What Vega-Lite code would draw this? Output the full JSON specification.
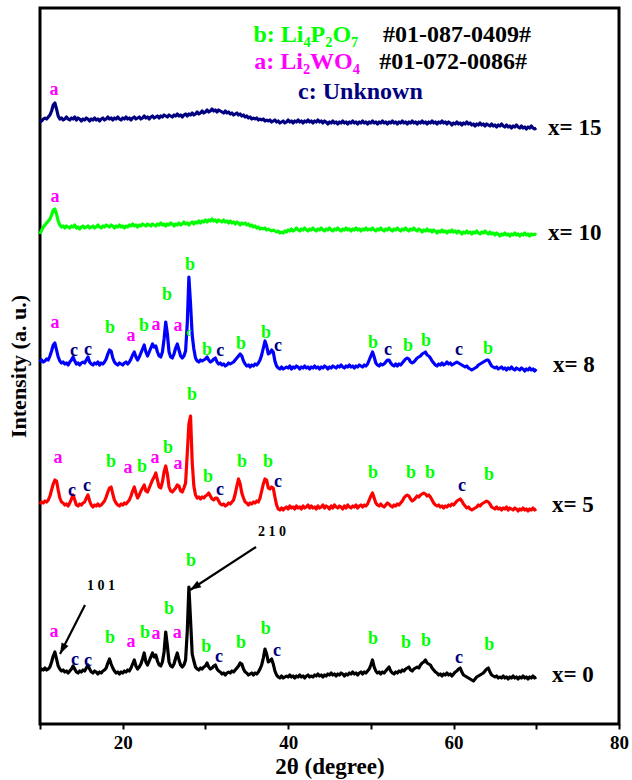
{
  "$schema": "https://vega.github.io/schema/vega-lite/v6.json",
  "width": 579,
  "height": 716,
  "autosize": {"type": "none"},
  "padding": {"left": 40, "top": 8, "right": 13, "bottom": 56},
  "background": "white",
  "config": {"view": {"stroke": "black", "strokeWidth": 3}, "font": "Liberation Serif"},
  "datasets": {
    "scans": [
      {"t":10.0,"s0":53,"s5":220,"s8":362,"s10":490,"s15":602},
      {"t":10.2,"s0":55,"s5":222,"s8":364,"s10":494,"s15":603},
      {"t":10.4,"s0":54,"s5":221,"s8":362,"s10":497,"s15":605},
      {"t":10.6,"s0":56,"s5":223,"s8":363,"s10":499,"s15":606},
      {"t":10.8,"s0":54,"s5":222,"s8":365,"s10":501,"s15":605},
      {"t":11.0,"s0":55,"s5":224,"s8":364,"s10":503,"s15":607},
      {"t":11.2,"s0":57,"s5":228,"s8":368,"s10":505,"s15":609},
      {"t":11.4,"s0":62,"s5":234,"s8":373,"s10":509,"s15":613},
      {"t":11.6,"s0":68,"s5":240,"s8":379,"s10":514,"s15":619},
      {"t":11.8,"s0":72,"s5":244,"s8":381,"s10":515,"s15":621},
      {"t":12.0,"s0":65,"s5":243,"s8":374,"s10":510,"s15":615},
      {"t":12.2,"s0":58,"s5":234,"s8":367,"s10":503,"s15":608},
      {"t":12.4,"s0":55,"s5":226,"s8":363,"s10":499,"s15":605},
      {"t":12.6,"s0":53,"s5":222,"s8":361,"s10":497,"s15":606},
      {"t":12.8,"s0":54,"s5":221,"s8":362,"s10":498,"s15":604},
      {"t":13.0,"s0":52,"s5":219,"s8":360,"s10":496,"s15":605},
      {"t":13.2,"s0":53,"s5":220,"s8":361,"s10":498,"s15":607},
      {"t":13.4,"s0":51,"s5":218,"s8":359,"s10":497,"s15":605},
      {"t":13.6,"s0":53,"s5":221,"s8":362,"s10":496,"s15":604},
      {"t":13.8,"s0":55,"s5":225,"s8":364,"s10":498,"s15":606},
      {"t":14.0,"s0":58,"s5":229,"s8":367,"s10":497,"s15":605},
      {"t":14.2,"s0":55,"s5":224,"s8":363,"s10":499,"s15":607},
      {"t":14.4,"s0":52,"s5":219,"s8":360,"s10":496,"s15":604},
      {"t":14.6,"s0":51,"s5":218,"s8":361,"s10":497,"s15":606},
      {"t":14.8,"s0":53,"s5":220,"s8":359,"s10":495,"s15":605},
      {"t":15.0,"s0":52,"s5":219,"s8":361,"s10":497,"s15":603},
      {"t":15.2,"s0":54,"s5":221,"s8":362,"s10":498,"s15":605},
      {"t":15.4,"s0":53,"s5":222,"s8":361,"s10":496,"s15":604},
      {"t":15.6,"s0":56,"s5":226,"s8":364,"s10":497,"s15":606},
      {"t":15.8,"s0":59,"s5":229,"s8":367,"s10":498,"s15":605},
      {"t":16.0,"s0":55,"s5":223,"s8":362,"s10":496,"s15":603},
      {"t":16.2,"s0":52,"s5":219,"s8":360,"s10":497,"s15":605},
      {"t":16.4,"s0":51,"s5":217,"s8":359,"s10":498,"s15":604},
      {"t":16.6,"s0":53,"s5":219,"s8":361,"s10":496,"s15":606},
      {"t":16.8,"s0":52,"s5":218,"s8":360,"s10":497,"s15":604},
      {"t":17.0,"s0":50,"s5":220,"s8":362,"s10":499,"s15":605},
      {"t":17.2,"s0":52,"s5":218,"s8":359,"s10":497,"s15":603},
      {"t":17.4,"s0":51,"s5":219,"s8":361,"s10":496,"s15":605},
      {"t":17.6,"s0":53,"s5":221,"s8":360,"s10":498,"s15":606},
      {"t":17.8,"s0":54,"s5":223,"s8":362,"s10":497,"s15":604},
      {"t":18.0,"s0":56,"s5":227,"s8":365,"s10":499,"s15":605},
      {"t":18.2,"s0":61,"s5":232,"s8":370,"s10":498,"s15":607},
      {"t":18.4,"s0":65,"s5":236,"s8":374,"s10":497,"s15":605},
      {"t":18.6,"s0":60,"s5":237,"s8":373,"s10":499,"s15":606},
      {"t":18.8,"s0":56,"s5":230,"s8":366,"s10":498,"s15":604},
      {"t":19.0,"s0":53,"s5":224,"s8":362,"s10":496,"s15":606},
      {"t":19.2,"s0":51,"s5":221,"s8":360,"s10":498,"s15":605},
      {"t":19.4,"s0":52,"s5":219,"s8":359,"s10":497,"s15":607},
      {"t":19.6,"s0":50,"s5":218,"s8":361,"s10":499,"s15":605},
      {"t":19.8,"s0":52,"s5":220,"s8":360,"s10":497,"s15":604},
      {"t":20.0,"s0":51,"s5":219,"s8":359,"s10":498,"s15":606},
      {"t":20.2,"s0":53,"s5":221,"s8":361,"s10":496,"s15":605},
      {"t":20.4,"s0":52,"s5":220,"s8":362,"s10":498,"s15":607},
      {"t":20.6,"s0":54,"s5":222,"s8":360,"s10":497,"s15":605},
      {"t":20.8,"s0":53,"s5":224,"s8":362,"s10":499,"s15":606},
      {"t":21.0,"s0":56,"s5":228,"s8":365,"s10":498,"s15":604},
      {"t":21.2,"s0":60,"s5":233,"s8":369,"s10":500,"s15":606},
      {"t":21.4,"s0":64,"s5":237,"s8":372,"s10":498,"s15":607},
      {"t":21.6,"s0":58,"s5":231,"s8":367,"s10":499,"s15":605},
      {"t":21.8,"s0":55,"s5":226,"s8":364,"s10":497,"s15":606},
      {"t":22.0,"s0":57,"s5":229,"s8":367,"s10":499,"s15":607},
      {"t":22.2,"s0":60,"s5":233,"s8":371,"s10":498,"s15":605},
      {"t":22.4,"s0":65,"s5":236,"s8":375,"s10":500,"s15":606},
      {"t":22.6,"s0":71,"s5":239,"s8":379,"s10":499,"s15":608},
      {"t":22.8,"s0":62,"s5":233,"s8":372,"s10":498,"s15":606},
      {"t":23.0,"s0":59,"s5":232,"s8":368,"s10":500,"s15":607},
      {"t":23.2,"s0":63,"s5":236,"s8":372,"s10":499,"s15":605},
      {"t":23.4,"s0":67,"s5":240,"s8":376,"s10":498,"s15":607},
      {"t":23.6,"s0":71,"s5":244,"s8":380,"s10":500,"s15":608},
      {"t":23.8,"s0":67,"s5":247,"s8":377,"s10":499,"s15":606},
      {"t":24.0,"s0":69,"s5":251,"s8":378,"s10":498,"s15":607},
      {"t":24.2,"s0":63,"s5":244,"s8":372,"s10":500,"s15":608},
      {"t":24.4,"s0":59,"s5":237,"s8":368,"s10":499,"s15":606},
      {"t":24.6,"s0":58,"s5":236,"s8":367,"s10":501,"s15":608},
      {"t":24.8,"s0":62,"s5":242,"s8":372,"s10":499,"s15":607},
      {"t":25.0,"s0":72,"s5":252,"s8":385,"s10":500,"s15":609},
      {"t":25.2,"s0":92,"s5":258,"s8":402,"s10":498,"s15":608},
      {"t":25.4,"s0":78,"s5":250,"s8":390,"s10":500,"s15":607},
      {"t":25.6,"s0":62,"s5":237,"s8":372,"s10":499,"s15":609},
      {"t":25.8,"s0":58,"s5":233,"s8":367,"s10":501,"s15":608},
      {"t":26.0,"s0":57,"s5":232,"s8":366,"s10":500,"s15":607},
      {"t":26.2,"s0":60,"s5":234,"s8":370,"s10":498,"s15":609},
      {"t":26.4,"s0":66,"s5":236,"s8":376,"s10":500,"s15":608},
      {"t":26.6,"s0":71,"s5":239,"s8":380,"s10":499,"s15":610},
      {"t":26.8,"s0":64,"s5":238,"s8":374,"s10":501,"s15":608},
      {"t":27.0,"s0":59,"s5":233,"s8":368,"s10":499,"s15":609},
      {"t":27.2,"s0":57,"s5":232,"s8":366,"s10":500,"s15":607},
      {"t":27.4,"s0":59,"s5":236,"s8":368,"s10":502,"s15":609},
      {"t":27.6,"s0":64,"s5":241,"s8":373,"s10":500,"s15":610},
      {"t":27.8,"s0":92,"s5":270,"s8":400,"s10":501,"s15":608},
      {"t":28.0,"s0":137,"s5":300,"s8":447,"s10":499,"s15":610},
      {"t":28.2,"s0":104,"s5":308,"s8":420,"s10":501,"s15":609},
      {"t":28.4,"s0":70,"s5":262,"s8":389,"s10":502,"s15":611},
      {"t":28.6,"s0":63,"s5":238,"s8":375,"s10":500,"s15":609},
      {"t":28.8,"s0":57,"s5":229,"s8":366,"s10":502,"s15":610},
      {"t":29.0,"s0":55,"s5":226,"s8":363,"s10":501,"s15":612},
      {"t":29.2,"s0":54,"s5":227,"s8":362,"s10":503,"s15":610},
      {"t":29.4,"s0":56,"s5":225,"s8":364,"s10":501,"s15":611},
      {"t":29.6,"s0":55,"s5":227,"s8":363,"s10":503,"s15":613},
      {"t":29.8,"s0":57,"s5":226,"s8":364,"s10":502,"s15":611},
      {"t":30.0,"s0":58,"s5":228,"s8":365,"s10":504,"s15":612},
      {"t":30.2,"s0":61,"s5":229,"s8":367,"s10":502,"s15":614},
      {"t":30.4,"s0":57,"s5":231,"s8":364,"s10":504,"s15":612},
      {"t":30.6,"s0":55,"s5":228,"s8":362,"s10":503,"s15":613},
      {"t":30.8,"s0":56,"s5":225,"s8":363,"s10":505,"s15":615},
      {"t":31.0,"s0":58,"s5":224,"s8":365,"s10":503,"s15":613},
      {"t":31.2,"s0":59,"s5":226,"s8":366,"s10":504,"s15":614},
      {"t":31.4,"s0":55,"s5":226,"s8":362,"s10":502,"s15":612},
      {"t":31.6,"s0":53,"s5":223,"s8":360,"s10":504,"s15":614},
      {"t":31.8,"s0":52,"s5":220,"s8":361,"s10":503,"s15":613},
      {"t":32.0,"s0":50,"s5":219,"s8":359,"s10":502,"s15":612},
      {"t":32.2,"s0":51,"s5":220,"s8":360,"s10":504,"s15":611},
      {"t":32.4,"s0":49,"s5":218,"s8":358,"s10":502,"s15":613},
      {"t":32.6,"s0":51,"s5":219,"s8":359,"s10":503,"s15":611},
      {"t":32.8,"s0":52,"s5":221,"s8":361,"s10":501,"s15":612},
      {"t":33.0,"s0":51,"s5":220,"s8":360,"s10":503,"s15":610},
      {"t":33.2,"s0":53,"s5":222,"s8":361,"s10":501,"s15":611},
      {"t":33.4,"s0":52,"s5":224,"s8":362,"s10":502,"s15":609},
      {"t":33.6,"s0":54,"s5":230,"s8":364,"s10":500,"s15":610},
      {"t":33.8,"s0":56,"s5":238,"s8":366,"s10":502,"s15":611},
      {"t":34.0,"s0":58,"s5":245,"s8":368,"s10":501,"s15":609},
      {"t":34.2,"s0":61,"s5":240,"s8":370,"s10":499,"s15":610},
      {"t":34.4,"s0":60,"s5":231,"s8":368,"s10":501,"s15":608},
      {"t":34.6,"s0":55,"s5":226,"s8":363,"s10":500,"s15":609},
      {"t":34.8,"s0":52,"s5":222,"s8":360,"s10":501,"s15":607},
      {"t":35.0,"s0":51,"s5":221,"s8":358,"s10":499,"s15":608},
      {"t":35.2,"s0":49,"s5":219,"s8":359,"s10":500,"s15":606},
      {"t":35.4,"s0":50,"s5":221,"s8":357,"s10":498,"s15":607},
      {"t":35.6,"s0":51,"s5":220,"s8":359,"s10":499,"s15":605},
      {"t":35.8,"s0":49,"s5":222,"s8":358,"s10":497,"s15":606},
      {"t":36.0,"s0":51,"s5":221,"s8":360,"s10":498,"s15":605},
      {"t":36.2,"s0":50,"s5":223,"s8":359,"s10":496,"s15":606},
      {"t":36.4,"s0":52,"s5":222,"s8":361,"s10":497,"s15":604},
      {"t":36.6,"s0":55,"s5":226,"s8":364,"s10":495,"s15":605},
      {"t":36.8,"s0":59,"s5":233,"s8":369,"s10":496,"s15":604},
      {"t":37.0,"s0":66,"s5":240,"s8":376,"s10":495,"s15":605},
      {"t":37.2,"s0":75,"s5":245,"s8":383,"s10":496,"s15":603},
      {"t":37.4,"s0":70,"s5":244,"s8":378,"s10":494,"s15":604},
      {"t":37.6,"s0":62,"s5":236,"s8":370,"s10":495,"s15":603},
      {"t":37.8,"s0":63,"s5":235,"s8":371,"s10":494,"s15":604},
      {"t":38.0,"s0":65,"s5":237,"s8":374,"s10":493,"s15":602},
      {"t":38.2,"s0":60,"s5":236,"s8":372,"s10":494,"s15":603},
      {"t":38.4,"s0":53,"s5":227,"s8":363,"s10":493,"s15":604},
      {"t":38.6,"s0":49,"s5":219,"s8":358,"s10":492,"s15":602},
      {"t":38.8,"s0":47,"s5":215,"s8":356,"s10":493,"s15":603},
      {"t":39.0,"s0":46,"s5":214,"s8":355,"s10":491,"s15":601},
      {"t":39.2,"s0":48,"s5":216,"s8":357,"s10":492,"s15":602},
      {"t":39.4,"s0":46,"s5":214,"s8":355,"s10":491,"s15":603},
      {"t":39.6,"s0":47,"s5":216,"s8":356,"s10":493,"s15":601},
      {"t":39.8,"s0":48,"s5":217,"s8":357,"s10":492,"s15":602},
      {"t":40.0,"s0":47,"s5":215,"s8":356,"s10":494,"s15":604},
      {"t":40.2,"s0":49,"s5":218,"s8":358,"s10":493,"s15":602},
      {"t":40.4,"s0":47,"s5":216,"s8":355,"s10":495,"s15":603},
      {"t":40.6,"s0":48,"s5":217,"s8":357,"s10":493,"s15":601},
      {"t":40.8,"s0":46,"s5":215,"s8":356,"s10":494,"s15":603},
      {"t":41.0,"s0":48,"s5":218,"s8":358,"s10":496,"s15":602},
      {"t":41.2,"s0":47,"s5":216,"s8":357,"s10":494,"s15":604},
      {"t":41.4,"s0":49,"s5":217,"s8":355,"s10":493,"s15":602},
      {"t":41.6,"s0":47,"s5":215,"s8":357,"s10":495,"s15":603},
      {"t":41.8,"s0":48,"s5":218,"s8":356,"s10":494,"s15":601},
      {"t":42.0,"s0":46,"s5":216,"s8":358,"s10":496,"s15":603},
      {"t":42.2,"s0":48,"s5":217,"s8":356,"s10":494,"s15":602},
      {"t":42.4,"s0":49,"s5":219,"s8":357,"s10":493,"s15":604},
      {"t":42.6,"s0":47,"s5":216,"s8":355,"s10":495,"s15":602},
      {"t":42.8,"s0":48,"s5":218,"s8":357,"s10":494,"s15":603},
      {"t":43.0,"s0":47,"s5":216,"s8":356,"s10":496,"s15":601},
      {"t":43.2,"s0":49,"s5":217,"s8":358,"s10":494,"s15":603},
      {"t":43.4,"s0":48,"s5":215,"s8":356,"s10":493,"s15":602},
      {"t":43.6,"s0":50,"s5":218,"s8":357,"s10":495,"s15":604},
      {"t":43.8,"s0":48,"s5":216,"s8":355,"s10":494,"s15":602},
      {"t":44.0,"s0":49,"s5":217,"s8":357,"s10":496,"s15":603},
      {"t":44.2,"s0":47,"s5":219,"s8":356,"s10":494,"s15":601},
      {"t":44.4,"s0":49,"s5":216,"s8":358,"s10":493,"s15":603},
      {"t":44.6,"s0":48,"s5":218,"s8":357,"s10":495,"s15":602},
      {"t":44.8,"s0":50,"s5":217,"s8":355,"s10":494,"s15":600},
      {"t":45.0,"s0":49,"s5":215,"s8":357,"s10":496,"s15":602},
      {"t":45.2,"s0":51,"s5":218,"s8":356,"s10":494,"s15":601},
      {"t":45.4,"s0":49,"s5":216,"s8":358,"s10":493,"s15":603},
      {"t":45.6,"s0":50,"s5":219,"s8":357,"s10":495,"s15":601},
      {"t":45.8,"s0":48,"s5":217,"s8":356,"s10":494,"s15":602},
      {"t":46.0,"s0":50,"s5":216,"s8":358,"s10":496,"s15":600},
      {"t":46.2,"s0":49,"s5":218,"s8":357,"s10":494,"s15":602},
      {"t":46.4,"s0":51,"s5":217,"s8":359,"s10":493,"s15":601},
      {"t":46.6,"s0":50,"s5":215,"s8":357,"s10":495,"s15":603},
      {"t":46.8,"s0":48,"s5":218,"s8":356,"s10":494,"s15":601},
      {"t":47.0,"s0":50,"s5":216,"s8":358,"s10":496,"s15":602},
      {"t":47.2,"s0":49,"s5":219,"s8":357,"s10":494,"s15":600},
      {"t":47.4,"s0":51,"s5":217,"s8":359,"s10":495,"s15":602},
      {"t":47.6,"s0":50,"s5":216,"s8":357,"s10":493,"s15":601},
      {"t":47.8,"s0":52,"s5":218,"s8":358,"s10":495,"s15":603},
      {"t":48.0,"s0":50,"s5":217,"s8":356,"s10":494,"s15":601},
      {"t":48.2,"s0":51,"s5":219,"s8":358,"s10":496,"s15":602},
      {"t":48.4,"s0":49,"s5":216,"s8":357,"s10":494,"s15":600},
      {"t":48.6,"s0":51,"s5":218,"s8":359,"s10":495,"s15":602},
      {"t":48.8,"s0":52,"s5":219,"s8":358,"s10":493,"s15":601},
      {"t":49.0,"s0":50,"s5":217,"s8":357,"s10":495,"s15":603},
      {"t":49.2,"s0":52,"s5":219,"s8":359,"s10":494,"s15":601},
      {"t":49.4,"s0":51,"s5":218,"s8":358,"s10":496,"s15":602},
      {"t":49.6,"s0":53,"s5":220,"s8":360,"s10":494,"s15":600},
      {"t":49.8,"s0":55,"s5":224,"s8":364,"s10":495,"s15":602},
      {"t":50.0,"s0":59,"s5":228,"s8":368,"s10":494,"s15":601},
      {"t":50.2,"s0":64,"s5":231,"s8":372,"s10":496,"s15":603},
      {"t":50.4,"s0":57,"s5":226,"s8":367,"s10":494,"s15":601},
      {"t":50.6,"s0":53,"s5":221,"s8":361,"s10":493,"s15":602},
      {"t":50.8,"s0":51,"s5":219,"s8":359,"s10":495,"s15":600},
      {"t":51.0,"s0":52,"s5":218,"s8":358,"s10":494,"s15":602},
      {"t":51.2,"s0":50,"s5":220,"s8":360,"s10":496,"s15":601},
      {"t":51.4,"s0":52,"s5":218,"s8":359,"s10":494,"s15":603},
      {"t":51.6,"s0":51,"s5":217,"s8":360,"s10":493,"s15":601},
      {"t":51.8,"s0":53,"s5":219,"s8":362,"s10":495,"s15":602},
      {"t":52.0,"s0":55,"s5":221,"s8":364,"s10":494,"s15":600},
      {"t":52.2,"s0":57,"s5":220,"s8":364,"s10":496,"s15":602},
      {"t":52.4,"s0":53,"s5":218,"s8":361,"s10":494,"s15":601},
      {"t":52.6,"s0":51,"s5":217,"s8":359,"s10":493,"s15":603},
      {"t":52.8,"s0":50,"s5":219,"s8":358,"s10":495,"s15":601},
      {"t":53.0,"s0":52,"s5":218,"s8":360,"s10":494,"s15":602},
      {"t":53.2,"s0":51,"s5":220,"s8":358,"s10":496,"s15":600},
      {"t":53.4,"s0":53,"s5":219,"s8":360,"s10":494,"s15":602},
      {"t":53.6,"s0":52,"s5":221,"s8":359,"s10":493,"s15":601},
      {"t":53.8,"s0":54,"s5":223,"s8":361,"s10":495,"s15":603},
      {"t":54.0,"s0":53,"s5":226,"s8":363,"s10":494,"s15":601},
      {"t":54.2,"s0":55,"s5":228,"s8":365,"s10":496,"s15":602},
      {"t":54.4,"s0":56,"s5":229,"s8":366,"s10":494,"s15":600},
      {"t":54.6,"s0":57,"s5":228,"s8":365,"s10":493,"s15":602},
      {"t":54.8,"s0":54,"s5":225,"s8":362,"s10":495,"s15":601},
      {"t":55.0,"s0":53,"s5":223,"s8":361,"s10":494,"s15":603},
      {"t":55.2,"s0":55,"s5":224,"s8":362,"s10":496,"s15":601},
      {"t":55.4,"s0":56,"s5":226,"s8":364,"s10":494,"s15":602},
      {"t":55.6,"s0":57,"s5":228,"s8":366,"s10":493,"s15":600},
      {"t":55.8,"s0":56,"s5":227,"s8":367,"s10":495,"s15":602},
      {"t":56.0,"s0":59,"s5":229,"s8":368,"s10":494,"s15":601},
      {"t":56.2,"s0":61,"s5":230,"s8":370,"s10":492,"s15":603},
      {"t":56.4,"s0":62,"s5":231,"s8":371,"s10":494,"s15":601},
      {"t":56.6,"s0":64,"s5":230,"s8":372,"s10":493,"s15":602},
      {"t":56.8,"s0":61,"s5":228,"s8":369,"s10":495,"s15":600},
      {"t":57.0,"s0":60,"s5":229,"s8":368,"s10":493,"s15":602},
      {"t":57.2,"s0":59,"s5":227,"s8":366,"s10":494,"s15":601},
      {"t":57.4,"s0":56,"s5":224,"s8":363,"s10":492,"s15":603},
      {"t":57.6,"s0":54,"s5":221,"s8":361,"s10":494,"s15":601},
      {"t":57.8,"s0":52,"s5":219,"s8":359,"s10":493,"s15":602},
      {"t":58.0,"s0":51,"s5":218,"s8":358,"s10":491,"s15":600},
      {"t":58.2,"s0":49,"s5":219,"s8":360,"s10":493,"s15":602},
      {"t":58.4,"s0":50,"s5":217,"s8":359,"s10":492,"s15":601},
      {"t":58.6,"s0":48,"s5":218,"s8":361,"s10":494,"s15":603},
      {"t":58.8,"s0":50,"s5":216,"s8":359,"s10":492,"s15":601},
      {"t":59.0,"s0":49,"s5":218,"s8":360,"s10":493,"s15":602},
      {"t":59.2,"s0":51,"s5":217,"s8":362,"s10":491,"s15":600},
      {"t":59.4,"s0":49,"s5":219,"s8":360,"s10":493,"s15":602},
      {"t":59.6,"s0":50,"s5":218,"s8":361,"s10":492,"s15":601},
      {"t":59.8,"s0":48,"s5":220,"s8":359,"s10":494,"s15":599},
      {"t":60.0,"s0":50,"s5":219,"s8":360,"s10":492,"s15":601},
      {"t":60.2,"s0":52,"s5":221,"s8":361,"s10":493,"s15":600},
      {"t":60.4,"s0":53,"s5":223,"s8":362,"s10":491,"s15":602},
      {"t":60.6,"s0":55,"s5":224,"s8":361,"s10":493,"s15":600},
      {"t":60.8,"s0":56,"s5":225,"s8":360,"s10":492,"s15":601},
      {"t":61.0,"s0":52,"s5":223,"s8":359,"s10":490,"s15":599},
      {"t":61.2,"s0":49,"s5":220,"s8":358,"s10":492,"s15":601},
      {"t":61.4,"s0":48,"s5":218,"s8":357,"s10":491,"s15":600},
      {"t":61.6,"s0":47,"s5":216,"s8":358,"s10":493,"s15":602},
      {"t":61.8,"s0":46,"s5":217,"s8":356,"s10":491,"s15":600},
      {"t":62.0,"s0":45,"s5":215,"s8":355,"s10":492,"s15":601},
      {"t":62.2,"s0":44,"s5":214,"s8":354,"s10":490,"s15":599},
      {"t":62.4,"s0":43,"s5":215,"s8":355,"s10":492,"s15":600},
      {"t":62.6,"s0":45,"s5":216,"s8":356,"s10":491,"s15":598},
      {"t":62.8,"s0":47,"s5":217,"s8":357,"s10":493,"s15":600},
      {"t":63.0,"s0":48,"s5":219,"s8":359,"s10":491,"s15":599},
      {"t":63.2,"s0":49,"s5":218,"s8":360,"s10":490,"s15":601},
      {"t":63.4,"s0":50,"s5":220,"s8":361,"s10":492,"s15":599},
      {"t":63.6,"s0":51,"s5":221,"s8":362,"s10":491,"s15":600},
      {"t":63.8,"s0":53,"s5":222,"s8":363,"s10":493,"s15":598},
      {"t":64.0,"s0":55,"s5":223,"s8":364,"s10":491,"s15":600},
      {"t":64.2,"s0":56,"s5":222,"s8":364,"s10":490,"s15":599},
      {"t":64.4,"s0":52,"s5":220,"s8":361,"s10":492,"s15":598},
      {"t":64.6,"s0":49,"s5":217,"s8":358,"s10":490,"s15":600},
      {"t":64.8,"s0":48,"s5":216,"s8":357,"s10":491,"s15":598},
      {"t":65.0,"s0":47,"s5":215,"s8":356,"s10":489,"s15":599},
      {"t":65.2,"s0":48,"s5":217,"s8":357,"s10":491,"s15":597},
      {"t":65.4,"s0":46,"s5":215,"s8":355,"s10":490,"s15":599},
      {"t":65.6,"s0":47,"s5":216,"s8":356,"s10":488,"s15":598},
      {"t":65.8,"s0":46,"s5":214,"s8":357,"s10":490,"s15":600},
      {"t":66.0,"s0":48,"s5":216,"s8":355,"s10":489,"s15":598},
      {"t":66.2,"s0":46,"s5":215,"s8":356,"s10":491,"s15":597},
      {"t":66.4,"s0":47,"s5":217,"s8":354,"s10":489,"s15":599},
      {"t":66.6,"s0":45,"s5":214,"s8":356,"s10":490,"s15":597},
      {"t":66.8,"s0":47,"s5":216,"s8":355,"s10":488,"s15":598},
      {"t":67.0,"s0":46,"s5":215,"s8":357,"s10":490,"s15":596},
      {"t":67.2,"s0":48,"s5":214,"s8":355,"s10":489,"s15":598},
      {"t":67.4,"s0":46,"s5":216,"s8":354,"s10":491,"s15":597},
      {"t":67.6,"s0":47,"s5":215,"s8":356,"s10":489,"s15":599},
      {"t":67.8,"s0":45,"s5":213,"s8":355,"s10":490,"s15":597},
      {"t":68.0,"s0":47,"s5":215,"s8":354,"s10":488,"s15":596},
      {"t":68.2,"s0":46,"s5":214,"s8":356,"s10":490,"s15":598},
      {"t":68.4,"s0":48,"s5":216,"s8":355,"s10":489,"s15":596},
      {"t":68.6,"s0":46,"s5":214,"s8":353,"s10":491,"s15":597},
      {"t":68.8,"s0":47,"s5":215,"s8":355,"s10":489,"s15":595},
      {"t":69.0,"s0":45,"s5":213,"s8":354,"s10":490,"s15":597},
      {"t":69.2,"s0":47,"s5":215,"s8":356,"s10":488,"s15":596},
      {"t":69.4,"s0":46,"s5":214,"s8":354,"s10":490,"s15":598},
      {"t":69.6,"s0":48,"s5":216,"s8":355,"s10":489,"s15":596},
      {"t":69.8,"s0":46,"s5":214,"s8":353,"s10":490,"s15":595},
      {"t":70.0,"s0":47,"s5":215,"s8":355,"s10":489,"s15":596}
    ],
    "peaks": [
      {"t":11.69,"y":92,"txt":"a","kind":"a"},
      {"t":14.23,"y":64,"txt":"c","kind":"c"},
      {"t":15.8,"y":63,"txt":"c","kind":"c"},
      {"t":18.46,"y":86,"txt":"b","kind":"b"},
      {"t":21.0,"y":82,"txt":"a","kind":"a"},
      {"t":22.69,"y":91,"txt":"b","kind":"b"},
      {"t":24.02,"y":90,"txt":"a","kind":"a"},
      {"t":25.6,"y":115,"txt":"b","kind":"b"},
      {"t":26.6,"y":91,"txt":"a","kind":"a"},
      {"t":28.26,"y":163,"txt":"b","kind":"b"},
      {"t":30.1,"y":77,"txt":"b","kind":"b"},
      {"t":31.64,"y":67,"txt":"c","kind":"c"},
      {"t":34.3,"y":81,"txt":"b","kind":"b"},
      {"t":37.3,"y":95,"txt":"b","kind":"b"},
      {"t":38.65,"y":73,"txt":"c","kind":"c"},
      {"t":50.26,"y":85,"txt":"b","kind":"b"},
      {"t":54.25,"y":81,"txt":"b","kind":"b"},
      {"t":56.67,"y":83,"txt":"b","kind":"b"},
      {"t":60.66,"y":66,"txt":"c","kind":"c"},
      {"t":64.3,"y":79,"txt":"b","kind":"b"},
      {"t":12.18,"y":266,"txt":"a","kind":"a"},
      {"t":13.87,"y":233,"txt":"c","kind":"c"},
      {"t":15.68,"y":238,"txt":"c","kind":"c"},
      {"t":18.58,"y":262,"txt":"b","kind":"b"},
      {"t":20.64,"y":256,"txt":"a","kind":"a"},
      {"t":22.33,"y":257,"txt":"b","kind":"b"},
      {"t":23.9,"y":266,"txt":"a","kind":"a"},
      {"t":25.48,"y":276,"txt":"b","kind":"b"},
      {"t":26.69,"y":260,"txt":"a","kind":"a"},
      {"t":28.38,"y":329,"txt":"b","kind":"b"},
      {"t":30.31,"y":247,"txt":"b","kind":"b"},
      {"t":31.76,"y":234,"txt":"c","kind":"c"},
      {"t":34.42,"y":262,"txt":"b","kind":"b"},
      {"t":37.57,"y":262,"txt":"b","kind":"b"},
      {"t":38.78,"y":242,"txt":"c","kind":"c"},
      {"t":50.26,"y":251,"txt":"b","kind":"b"},
      {"t":54.86,"y":251,"txt":"b","kind":"b"},
      {"t":57.15,"y":251,"txt":"b","kind":"b"},
      {"t":61.02,"y":238,"txt":"c","kind":"c"},
      {"t":64.29,"y":249,"txt":"b","kind":"b"},
      {"t":11.81,"y":401,"txt":"a","kind":"a"},
      {"t":14.11,"y":373,"txt":"c","kind":"c"},
      {"t":15.8,"y":374,"txt":"c","kind":"c"},
      {"t":18.46,"y":396,"txt":"b","kind":"b"},
      {"t":21.0,"y":388,"txt":"a","kind":"a"},
      {"t":22.57,"y":398,"txt":"b","kind":"b"},
      {"t":24.02,"y":399,"txt":"a","kind":"a"},
      {"t":25.35,"y":429,"txt":"b","kind":"b"},
      {"t":26.68,"y":398,"txt":"a","kind":"a"},
      {"t":28.14,"y":459,"txt":"b","kind":"b"},
      {"t":28.01,"y":392,"txt":"c","kind":"c*"},
      {"t":30.19,"y":374,"txt":"b","kind":"b"},
      {"t":31.8,"y":373,"txt":"c","kind":"c"},
      {"t":34.3,"y":380,"txt":"b","kind":"b"},
      {"t":37.32,"y":391,"txt":"b","kind":"b"},
      {"t":38.78,"y":378,"txt":"c","kind":"c"},
      {"t":50.26,"y":381,"txt":"b","kind":"b"},
      {"t":52.07,"y":374,"txt":"c","kind":"c"},
      {"t":54.49,"y":378,"txt":"b","kind":"b"},
      {"t":56.67,"y":383,"txt":"b","kind":"b"},
      {"t":60.66,"y":374,"txt":"c","kind":"c"},
      {"t":64.17,"y":375,"txt":"b","kind":"b"},
      {"t":11.81,"y":527,"txt":"a","kind":"a"},
      {"t":11.69,"y":634,"txt":"a","kind":"a"}
    ],
    "key": [
      {"t":35.8,"y":689,"txt":"b: Li₄P₂O₇","kind":"b"},
      {"t":51.47,"y":689,"txt":"#01-087-0409#","kind":"k"},
      {"t":35.9,"y":662,"txt":"a: Li₂WO₄","kind":"a"},
      {"t":51.0,"y":662,"txt":"#01-072-0086#","kind":"k"},
      {"t":41.2,"y":632,"txt":"c: Unknown","kind":"c"}
    ],
    "samples": [
      {"t":71.42,"y":596,"txt":"x= 15"},
      {"t":71.42,"y":491,"txt":"x= 10"},
      {"t":72.02,"y":359,"txt":"x= 8"},
      {"t":71.9,"y":219,"txt":"x= 5"},
      {"t":71.9,"y":49,"txt":"x= 0"}
    ],
    "hkl": [
      {"t":17.38,"y":138,"txt":"1 0 1"},
      {"t":38.05,"y":192,"txt":"2 1 0"}
    ],
    "arrows": [
      {"id":"101","t":15.44,"y":119,"t2":12.42,"y2":70},
      {"id":"210","t":36.12,"y":177,"t2":28.14,"y2":134}
    ],
    "heads": [
      {"id":"101","t":12.42,"y":70},
      {"id":"210","t":28.14,"y":134}
    ]
  },
  "encoding": {
    "x": {
      "field": "t",
      "type": "quantitative",
      "scale": {"domain": [10, 80], "nice": false, "zero": false},
      "axis": {
        "title": "2θ (degree)",
        "values": [10, 20, 30, 40, 50, 60, 70, 80],
        "labelExpr": "datum.value % 20 === 0 && datum.value > 10 ? datum.label : ''",
        "grid": false,
        "domain": false,
        "tickSize": 5,
        "tickWidth": 2,
        "tickColor": "black",
        "labelFlush": false,
        "labelOverlap": false,
        "labelFont": "Liberation Serif",
        "labelFontWeight": "bold",
        "labelFontSize": 19,
        "labelColor": "black",
        "labelPadding": 4,
        "titleFont": "Liberation Serif",
        "titleFontWeight": "bold",
        "titleFontSize": 23,
        "titleColor": "black",
        "titlePadding": 3
      }
    },
    "y": {
      "field": "y",
      "type": "quantitative",
      "scale": {"domain": [0, 716], "nice": false, "zero": false},
      "axis": {
        "title": "Intensity (a. u.)",
        "labels": false,
        "ticks": false,
        "domain": false,
        "grid": false,
        "titleFont": "Liberation Serif",
        "titleFontWeight": "bold",
        "titleFontSize": 22,
        "titleColor": "black",
        "titlePadding": 10
      }
    }
  },
  "layer": [
    {
      "data": {"name": "scans"},
      "transform": [{"fold": ["s0", "s5", "s8", "s10", "s15"], "as": ["sample", "y"]}],
      "mark": {"type": "line", "strokeWidth": 3.2, "strokeJoin": "round"},
      "encoding": {
        "color": {
          "field": "sample",
          "type": "nominal",
          "scale": {"domain": ["s0", "s5", "s8", "s10", "s15"], "range": ["#000000", "#ff0000", "#0000ff", "#00ff00", "#000080"]},
          "legend": null
        }
      }
    },
    {
      "data": {"name": "peaks"},
      "mark": {"type": "text", "font": "Liberation Serif", "fontWeight": "bold", "baseline": "middle"},
      "encoding": {
        "text": {"field": "txt"},
        "size": {"condition": {"test": "datum.kind === 'c*'", "value": 12}, "value": 18},
        "color": {
          "field": "kind",
          "type": "nominal",
          "scale": {"domain": ["a", "b", "c", "c*"], "range": ["#ff00ff", "#00ff00", "#000080", "#00ff00"]},
          "legend": null
        }
      }
    },
    {
      "data": {"name": "key"},
      "mark": {"type": "text", "font": "Liberation Serif", "fontWeight": "bold", "fontSize": 24, "align": "left", "baseline": "middle"},
      "encoding": {
        "text": {"field": "txt"},
        "color": {
          "field": "kind",
          "type": "nominal",
          "scale": {"domain": ["a", "b", "c", "k"], "range": ["#ff00ff", "#00ff00", "#000080", "#000000"]},
          "legend": null
        }
      }
    },
    {
      "data": {"name": "samples"},
      "mark": {"type": "text", "font": "Liberation Serif", "fontWeight": "bold", "fontSize": 23, "align": "left", "baseline": "middle", "color": "black"},
      "encoding": {"text": {"field": "txt"}}
    },
    {
      "data": {"name": "hkl"},
      "mark": {"type": "text", "font": "Liberation Serif", "fontWeight": "bold", "fontSize": 14, "baseline": "middle", "color": "black"},
      "encoding": {"text": {"field": "txt"}}
    },
    {
      "data": {"name": "arrows"},
      "mark": {"type": "rule", "color": "black", "strokeWidth": 2.2},
      "encoding": {
        "x2": {"field": "t2"},
        "y2": {"field": "y2"}
      }
    },
    {
      "data": {"name": "heads"},
      "transform": [{"filter": "datum.id === '101'"}],
      "mark": {"type": "point", "shape": "M0,0 L-0.35,1 L0.35,1 Z", "filled": true, "color": "black", "opacity": 1, "size": 484, "angle": 207},
      "encoding": {}
    },
    {
      "data": {"name": "heads"},
      "transform": [{"filter": "datum.id === '210'"}],
      "mark": {"type": "point", "shape": "M0,0 L-0.35,1 L0.35,1 Z", "filled": true, "color": "black", "opacity": 1, "size": 484, "angle": 237},
      "encoding": {}
    }
  ],
  "resolve": {"scale": {"color": "independent"}}
}
